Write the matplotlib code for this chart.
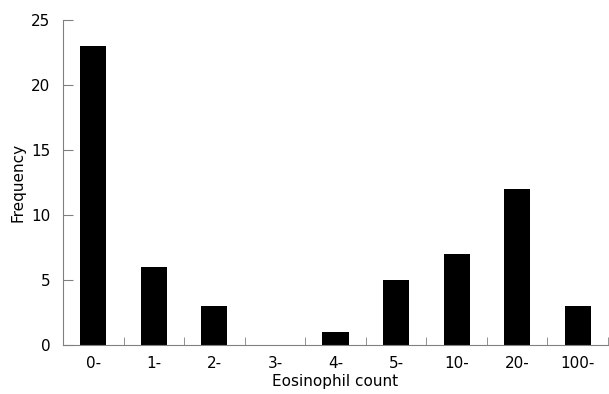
import numpy as np
import matplotlib.pyplot as plt
import matplotlib as mpl

mpl.rcParams['font.family'] = 'DejaVu Sans'

categories = ["0-", "1-", "2-", "3-", "4-", "5-", "10-", "20-", "100-"]
frequency = [23, 6, 3, 0, 1, 5, 7, 12, 3]

fig = plt.figure(figsize=(6.09, 3.94), dpi=100)
ax = fig.add_axes([63/609, 49/394, 545/609, 325/394])

x = np.arange(len(categories))
ax.bar(x, frequency, width=0.43, color='black')

ax.set_xlim(-0.5, len(categories) - 0.5)
ax.set_ylim(0, 25)
ax.set_yticks([0, 5, 10, 15, 20, 25])

ax.set_xticks(x)
ax.set_xticklabels(categories)
ax.set_xticks(x + 0.5, minor=True)
ax.tick_params(axis='x', which='major', length=0, pad=8, labelsize=11)
ax.tick_params(axis='x', which='minor', direction='in', length=6, color='#808080')
ax.tick_params(axis='y', direction='in', length=7, color='#808080', labelsize=11, pad=9)

for s in ['top', 'right']:
    ax.spines[s].set_visible(False)
for s in ['left', 'bottom']:
    ax.spines[s].set_color('#808080')

ax.set_xlabel('Eosinophil count', fontsize=11, labelpad=2)
ax.set_ylabel('Frequency', fontsize=11, labelpad=4)

fig.savefig('out.png', dpi=100)
